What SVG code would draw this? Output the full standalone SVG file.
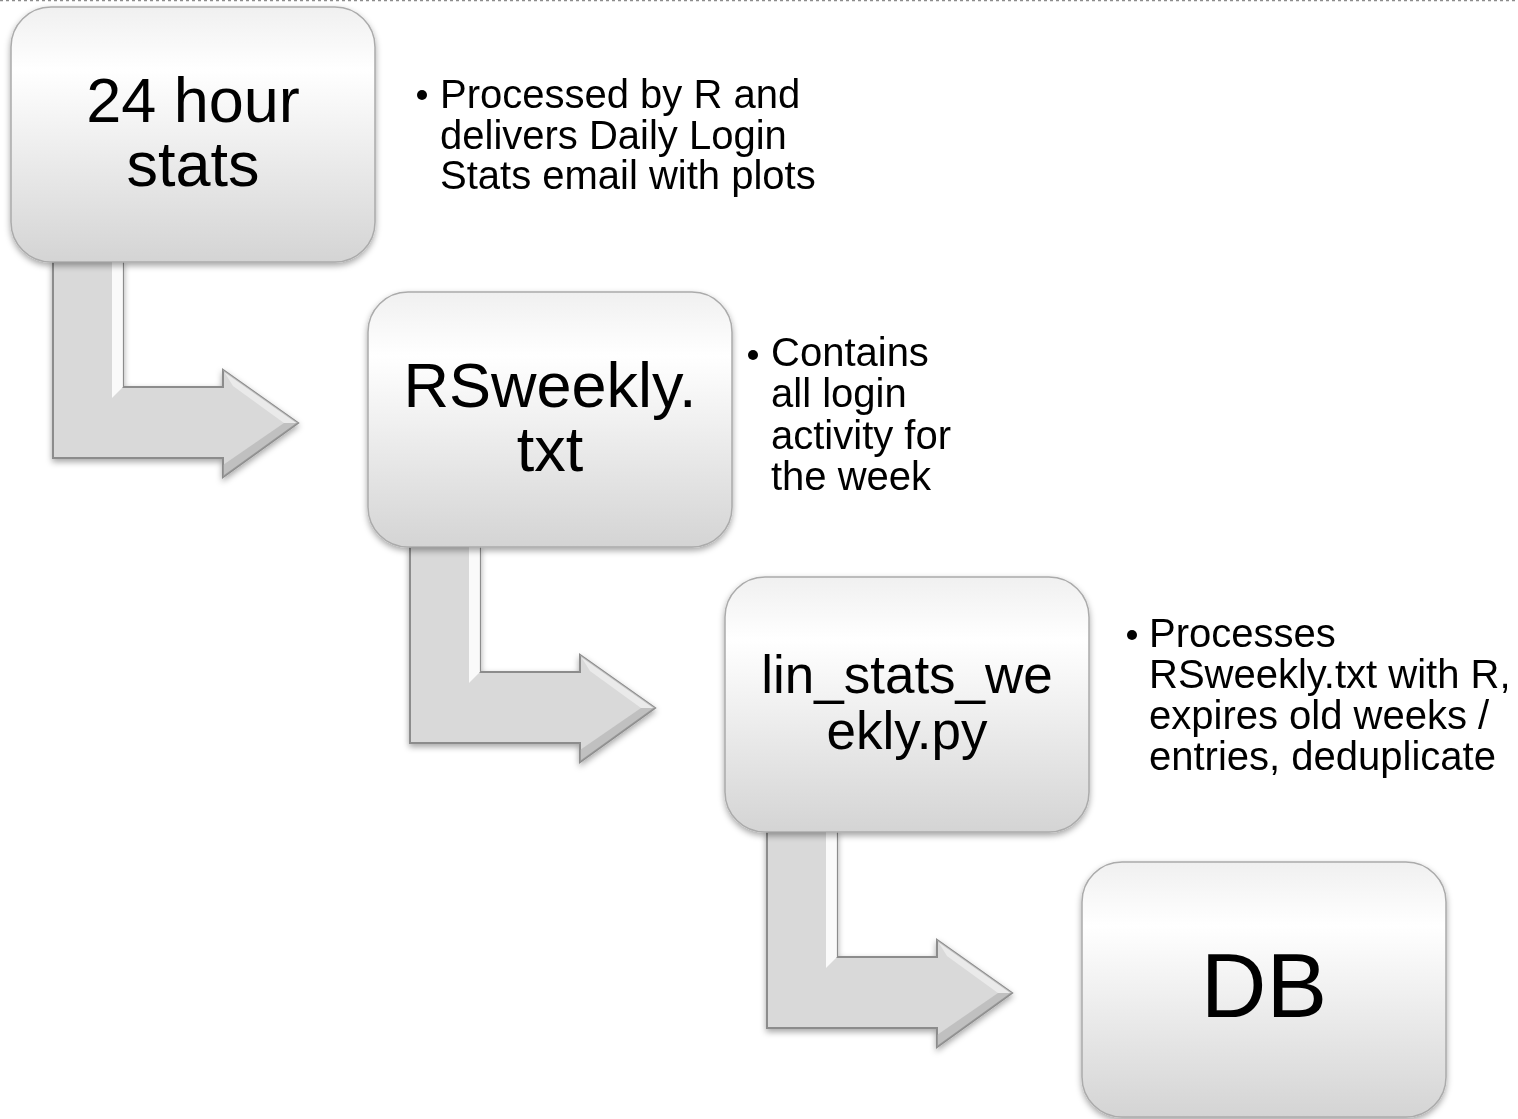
<svg xmlns="http://www.w3.org/2000/svg" width="1518" height="1119" viewBox="0 0 1518 1119">
<style>
.box{fill:url(#boxGrad);stroke:#ababab;stroke-width:1.5;filter:url(#shadow)}
.arrow{fill:#d9d9d9;stroke:#8c8c8c;stroke-width:2;stroke-linejoin:miter}
.hl{fill:#ffffff;opacity:0.85}
.hl2{fill:#ffffff;opacity:0.45}
.dk{fill:#a8a8a8;opacity:0.5}
.title{font-family:"Liberation Sans",Arial,sans-serif;fill:#000;text-anchor:middle}
.bul{font-family:"Liberation Sans",Arial,sans-serif;font-size:40px;fill:#000}
.dot{fill:#000}
</style>
<defs>
<linearGradient id="boxGrad" x1="0" y1="0" x2="0" y2="1">
<stop offset="0" stop-color="#f0f0f0"/>
<stop offset="0.25" stop-color="#ffffff"/>
<stop offset="1" stop-color="#d4d4d4"/>
</linearGradient>
<filter id="shadow" x="-10%" y="-10%" width="120%" height="125%">
<feDropShadow dx="0" dy="3" stdDeviation="3" flood-color="#000" flood-opacity="0.35"/>
</filter>
<g id="bentArrow">
<polygon class="arrow" points="53,262 123,262 123,387 223,387 223,370 298,423 223,477 223,458 53,458"/>
<polygon class="hl" points="112,262 123,262 123,387 112,398"/>
<polygon class="hl2" points="223,370 298,423 284,423 233,386"/>
<polygon class="dk" points="298,423 223,477 223,465 284,423"/>
</g>
</defs>
<rect width="1518" height="1119" fill="#ffffff"/>
<line x1="0" y1="0.5" x2="1518" y2="0.5" stroke="#8c8c8c" stroke-width="1.5" stroke-dasharray="3,3"/>
<g id="connectors" filter="url(#shadow)">
<use href="#bentArrow"/>
<use href="#bentArrow" transform="translate(357,285)"/>
<use href="#bentArrow" transform="translate(714,570)"/>
</g>
<g id="node-24hour">
<rect class="box" x="11" y="7" width="364" height="255" rx="40"/>
<text class="title" font-size="63" x="193" y="122">24 hour</text>
<text class="title" font-size="63" x="193" y="186">stats</text>
</g>
<g id="node-rsweekly">
<rect class="box" x="368" y="292" width="364" height="255" rx="40"/>
<text class="title" font-size="63" x="550" y="407">RSweekly.</text>
<text class="title" font-size="63" x="550" y="471">txt</text>
</g>
<g id="node-linstats">
<rect class="box" x="725" y="577" width="364" height="255" rx="40"/>
<text class="title" font-size="53" x="907" y="693">lin_stats_we</text>
<text class="title" font-size="53" x="907" y="749">ekly.py</text>
</g>
<g id="node-db">
<rect class="box" x="1082" y="862" width="364" height="255" rx="40"/>
<text class="title" font-size="91" x="1264" y="1017">DB</text>
</g>
<g id="note-1">
<circle class="dot" cx="422" cy="95" r="5"/>
<text class="bul" x="440" y="108">Processed by R and</text>
<text class="bul" x="440" y="149">delivers Daily Login</text>
<text class="bul" x="440" y="189">Stats email with plots</text>
</g>
<g id="note-2">
<circle class="dot" cx="753" cy="355" r="5"/>
<text class="bul" x="771" y="366">Contains</text>
<text class="bul" x="771" y="407">all login</text>
<text class="bul" x="771" y="449">activity for</text>
<text class="bul" x="771" y="490">the week</text>
</g>
<g id="note-3">
<circle class="dot" cx="1132" cy="635" r="5"/>
<text class="bul" x="1149" y="647">Processes</text>
<text class="bul" x="1149" y="688">RSweekly.txt with R,</text>
<text class="bul" x="1149" y="729">expires old weeks /</text>
<text class="bul" x="1149" y="770">entries, deduplicate</text>
</g>
</svg>
